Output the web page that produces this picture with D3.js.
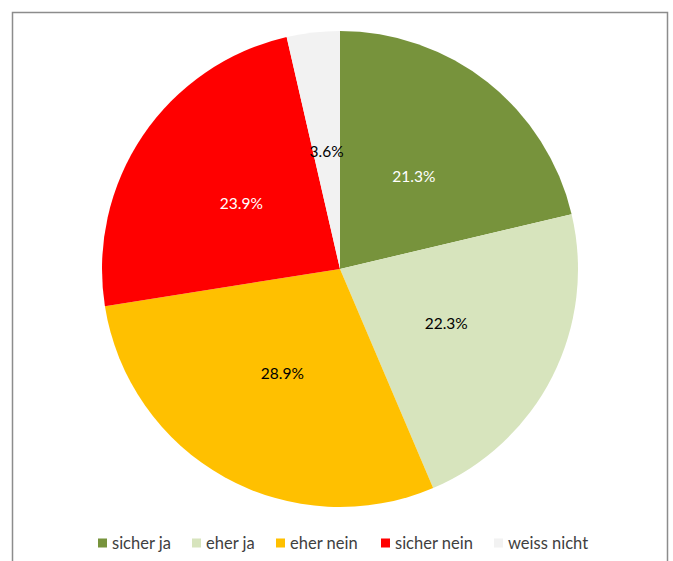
<!DOCTYPE html>
<html>
<head>
<meta charset="utf-8">
<script src="https://cdn.jsdelivr.net/npm/d3@7"></script>
<style>
  body { margin: 0; background: #fff; }
  svg text { font-family: Lato, "Open Sans", sans-serif; }
</style>
</head>
<body>
<svg id="chart" width="673" height="561"></svg>
<script>
var categories = ['sicher ja', 'eher ja', 'eher nein', 'sicher nein', 'weiss nicht'];
var values = [21.3, 22.3, 28.9, 23.9, 3.6];
var colors = ['#77933C', '#D7E4BD', '#FFC000', '#FF0000', '#F2F2F2'];
var labelColors = ['#fff', '#000', '#000', '#fff', '#000'];

var svg = d3.select('#chart');
var cx = 340, cy = 269, r = 238;

// chart frame (bottom edge falls outside the picture)
svg.append('path')
  .attr('d', 'M12.5,561 V12.5 H667.5 V561')
  .attr('fill', 'none')
  .attr('stroke', '#8c8c8c')
  .attr('stroke-width', 1.5);

var pie = d3.pie().sort(null).value(function (d) { return d; });
var arcs = pie(values);
var arc = d3.arc().innerRadius(0).outerRadius(r);
var labelArc = d3.arc().innerRadius(r * 0.5).outerRadius(r * 0.5);

var g = svg.append('g').attr('transform', 'translate(' + cx + ',' + cy + ')');

g.selectAll('path.slice')
  .data(arcs)
  .enter().append('path')
    .attr('class', 'slice')
    .attr('d', arc)
    .attr('fill', function (d, i) { return colors[i]; });

g.selectAll('text.lbl')
  .data(arcs)
  .enter().append('text')
    .attr('class', 'lbl')
    .attr('transform', function (d) { return 'translate(' + labelArc.centroid(d) + ')'; })
    .attr('text-anchor', 'middle')
    .attr('dy', '0.4em')
    .attr('font-size', 15.5)
    .attr('fill', function (d, i) { return labelColors[i]; })
    .text(function (d) { return d.data.toFixed(1) + '%'; });

// legend
var legendX = [98, 192, 276, 381, 494];
var legend = svg.append('g').attr('transform', 'translate(0,543)');
var item = legend.selectAll('g')
  .data(categories)
  .enter().append('g')
    .attr('transform', function (d, i) { return 'translate(' + legendX[i] + ',0)'; });
item.append('rect')
  .attr('x', 0).attr('y', -4.5)
  .attr('width', 9).attr('height', 9)
  .attr('fill', function (d, i) { return colors[i]; });
item.append('text')
  .attr('x', 14)
  .attr('dy', '0.35em')
  .attr('font-size', 16.5)
  .attr('fill', '#404040')
  .text(function (d) { return d; });
</script>
</body>
</html>
